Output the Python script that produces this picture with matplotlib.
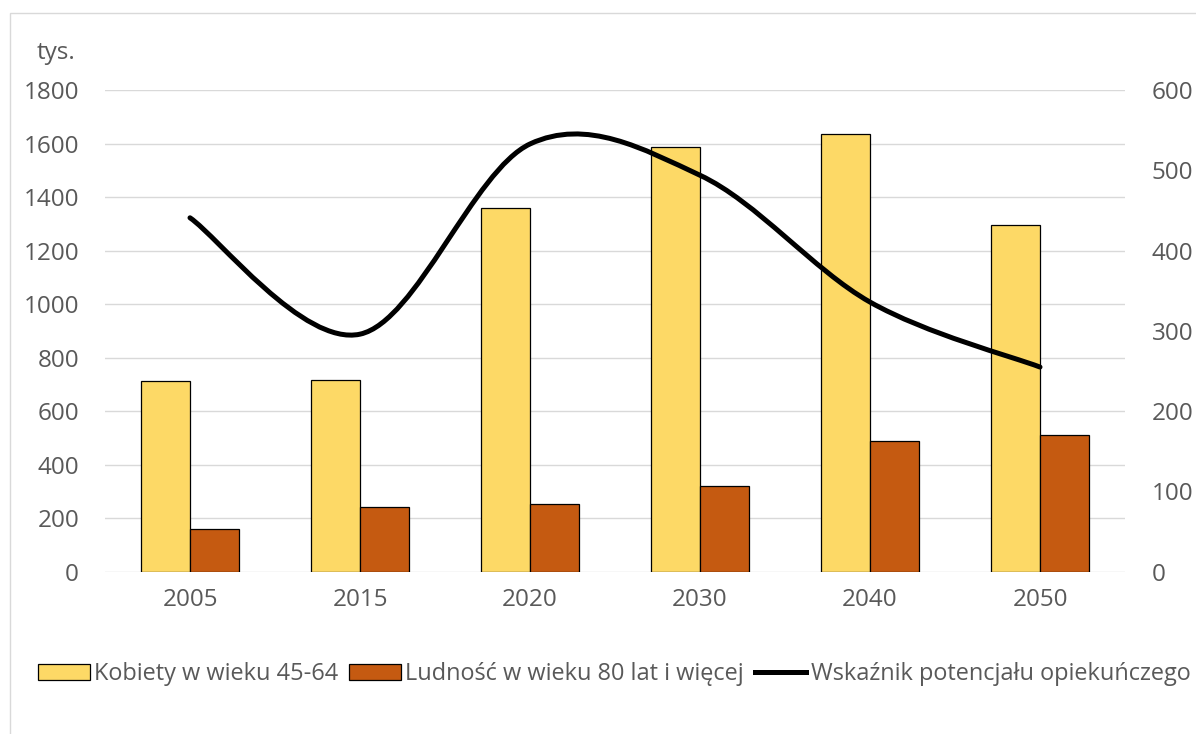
import numpy as np
import matplotlib
matplotlib.use("Agg")
import matplotlib.pyplot as plt
from matplotlib.patches import Patch, Rectangle, PathPatch
from matplotlib.lines import Line2D
from matplotlib.path import Path

years = ["2005", "2015", "2020", "2030", "2040", "2050"]
kobiety = [712, 715, 1358, 1588, 1635, 1297]
ludnosc = [160, 241, 253, 321, 488, 510]
wskaznik = [441, 296, 533, 494, 336, 255]

labels = ["Kobiety w wieku 45-64", "Ludność w wieku 80 lat i więcej",
          "Wskaźnik potencjału opiekuńczego"]
left_ticks = list(range(0, 1801, 200))
right_ticks = list(range(0, 601, 100))

FONT = ["Open Sans", "DejaVu Sans"]
plt.rcParams["font.family"] = FONT
FS = 17.5
LFS = 16.9
TXT = "#595959"
GRID = "#D9D9D9"
YEL = "#FDD966"
ORA = "#C55A11"

W, H = 1196, 734
fig = plt.figure(figsize=(W / 100, H / 100), dpi=100)
ax = fig.add_axes([105 / W, 1 - 571.7 / H, (1125 - 105) / W, (571.7 - 90.2) / H])
ax2 = ax.twinx()

x = np.arange(len(years))
bw = 0.288
ax.bar(x - bw / 2, kobiety, bw, color=YEL, edgecolor="black", linewidth=0.9, zorder=2)
ax.bar(x + bw / 2, ludnosc, bw, color=ORA, edgecolor="black", linewidth=0.9, zorder=2)

ax.set_xlim(-0.5, len(years) - 0.5)
ax.set_ylim(0, 1800)
ax.set_yticks(left_ticks)
ax.set_xticks(x)
ax.set_xticklabels(years)
for t in left_ticks:
    ax.axhline(t, color=GRID, linewidth=1.0, zorder=0)
for sp in ax.spines.values():
    sp.set_visible(False)
for sp in ax2.spines.values():
    sp.set_visible(False)
ax.tick_params(axis="both", length=0, labelsize=FS, colors=TXT)
ax.tick_params(axis="y", pad=18.7)
ax.tick_params(axis="x", pad=12)

# smooth line (Catmull-Rom style bezier as in spreadsheet smoothing)
pts = np.column_stack([x.astype(float), np.array(wskaznik, dtype=float)])
verts = [tuple(pts[0])]
codes = [Path.MOVETO]
n = len(pts)
for i in range(n - 1):
    p0 = pts[i - 1] if i > 0 else pts[i]
    p1 = pts[i]
    p2 = pts[i + 1]
    p3 = pts[i + 2] if i + 2 < n else pts[i + 1]
    c1 = p1 + (p2 - p0) / 6.0
    c2 = p2 - (p3 - p1) / 6.0
    verts += [tuple(c1), tuple(c2), tuple(p2)]
    codes += [Path.CURVE4] * 3
ax2.add_patch(PathPatch(Path(verts, codes), facecolor="none", edgecolor="black",
                        linewidth=3.6, capstyle="round", zorder=3))
ax2.set_ylim(0, 600)
ax2.set_yticks(right_ticks)
ax2.tick_params(axis="y", length=0, labelsize=FS, colors=TXT, pad=19.4)
ax2.set_xlim(-0.5, len(years) - 0.5)

fig.text(37 / W, 1 - 59 / H, "tys.", fontsize=FS, color=TXT, va="baseline", ha="left")

# chart border
fig.patches.append(Rectangle((10 / W, -0.1), 1.2, 1 - 13 / H + 0.1, transform=fig.transFigure,
                             facecolor="none", edgecolor=GRID, linewidth=1.0))

handles = [Patch(facecolor=YEL, edgecolor="black", linewidth=0.9),
           Patch(facecolor=ORA, edgecolor="black", linewidth=0.9),
           Line2D([0], [0], color="black", linewidth=3.6)]
leg = fig.legend(handles, labels, loc="center left", bbox_to_anchor=(38 / W, 1 - 674 / H),
                 ncol=3, frameon=False, fontsize=LFS, handlelength=2.2, handleheight=0.65,
                 handletextpad=0.2, columnspacing=0.45, borderaxespad=0, borderpad=0)
for t in leg.get_texts():
    t.set_color(TXT)

fig.savefig("out.png", dpi=100)
